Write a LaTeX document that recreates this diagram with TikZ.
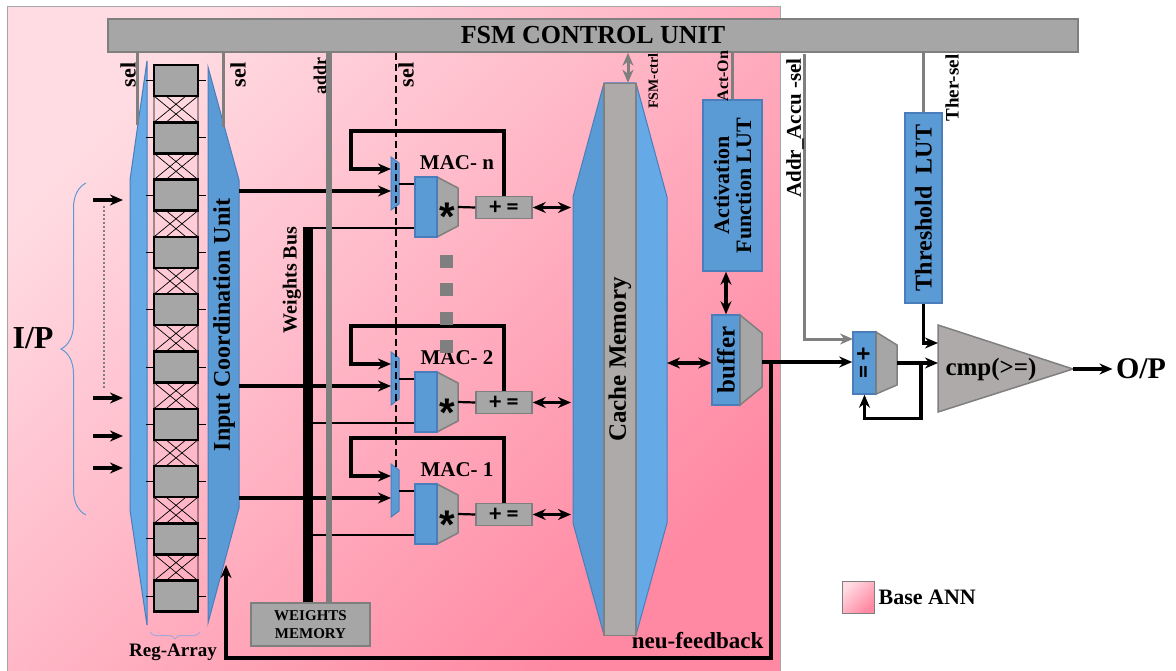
\documentclass[tikz,border=0pt]{standalone}
\usepackage{fontspec}
\setmainfont{Liberation Serif}
\newfontfamily\calib{Carlito}
\newfontfamily\arialf{Liberation Sans}
\usetikzlibrary{shapes,positioning,arrows.meta,calc,decorations.pathreplacing}
\definecolor{pinkL}{HTML}{FFDCE3}
\definecolor{pinkD}{HTML}{FF88A2}
\definecolor{unitblue}{HTML}{5B9BD5}
\definecolor{lightblue}{HTML}{65AAE6}
\definecolor{blueedge}{HTML}{4A7EBB}
\definecolor{boxgray}{HTML}{A6A6A6}
\definecolor{edgegray}{HTML}{7F7F7F}
\definecolor{memgray}{HTML}{AEAAAA}
\definecolor{bracelav}{HTML}{A9A7DA}
\newcommand{\tsize}[2]{\fontsize{#1}{#2}\selectfont\bfseries}

\begin{document}
\begin{tikzpicture}[x=1pt,y=-1pt,>={Stealth[length=13pt,width=11pt]}]
\tikzstyle{gbox}=[draw=edgegray, fill=boxgray, line width=1.5pt, inner sep=0pt];
\tikzstyle{bbox}=[draw=blueedge, fill=unitblue, line width=1.5pt, inner sep=0pt];
\tikzstyle{cell}=[draw, fill=boxgray, line width=2.5pt, minimum width=44pt, minimum height=31pt, inner sep=0pt];
\tikzstyle{vlabel}=[rotate=90, inner sep=0pt];
\tikzstyle{wire}=[line width=3.2pt];
\tikzstyle{twire}=[line width=2.2pt];
\tikzstyle{gwire}=[edgegray, line width=3pt];
\tikzstyle{trap}=[fill=boxgray, draw=edgegray, line width=1.5pt];
\useasboundingbox (0,0) rectangle (1176,671);

% base ANN region
\shade[top color=pinkL, bottom color=pinkD, shading angle=45] (7,7) rectangle (780,680);
\draw[gray!70, line width=1pt] (7,680) -- (7,7) -- (780,7) -- (780,680);

\node[gbox, minimum width=970pt, minimum height=33pt, font={\tsize{26}{26}}] (fsm) at (593,35.5) {FSM CONTROL UNIT};

% register array
\fill[lightblue, draw=blueedge, line width=1pt] (147,61) -- (130,180) -- (130,510) -- (147,625) -- cycle;
\foreach \i in {0,...,8} {
  \pgfmathsetmacro\yt{96+57.3*\i}
  \draw[line width=0.7pt] (154,\yt) rectangle (198,\yt+26.3)
    (154,\yt) -- (186,\yt+26.3) (166,\yt) -- (198,\yt+26.3)
    (198,\yt) -- (166,\yt+26.3) (186,\yt) -- (154,\yt+26.3);
}
\foreach \i in {0,...,9} {
  \node[cell] (cell\i) at (176,80.5+57.3*\i) {};
  \draw[line width=1pt] (cell\i.west) -- ++(-7,0) (cell\i.east) -- ++(7,0);
}

% input coordination unit
\fill[unitblue, draw=blueedge, line width=1pt] (208,67) -- (239,180) -- (239,508) -- (208,623) -- cycle;
\node[vlabel, font={\tsize{24}{24}}] (icu) at (224,325) {Input Coordination Unit};
\coordinate (icuR) at (239,325);
\coordinate (icuB) at (226,565);

% cache memory
\fill[unitblue] (620,83) -- (604,83) -- (573,197) -- (573,523) -- (604,635) -- (620,635) -- cycle;
\fill[lightblue] (620,83) -- (636,83) -- (667,197) -- (667,523) -- (636,635) -- (620,635) -- cycle;
\draw[blueedge, line width=1pt] (604,83) -- (573,197) -- (573,523) -- (604,635) -- (636,635) -- (667,523) -- (667,197) -- (636,83) -- cycle;
\node[vlabel, fill=memgray, draw=gray, line width=1.5pt, minimum width=552pt, minimum height=32pt, font={\tsize{25}{25}}] (cache) at (620,359.5) {Cache Memory};
\coordinate (cacheL) at (571,360);
\coordinate (cacheR) at (667,363);

% MAC units
\foreach \m/\b in {n/177,2/372,1/484} {
  \fill[unitblue, draw=blueedge, line width=1pt] (391,\b-20) -- (399,\b-14) -- (399,\b+27) -- (391,\b+33) -- cycle;
  \coordinate (muxA\m) at (391,\b-8);
  \coordinate (muxB\m) at (391,\b+14);
  \coordinate (muxO\m) at (399,\b+7);
  \fill[trap] (437,\b) -- (458,\b+11) -- (458,\b+49) -- (437,\b+60) -- cycle;
  \node[bbox, minimum width=22pt, minimum height=60pt] (mreg\m) at (426,\b+30) {};
  \coordinate (mulO\m) at (458,\b+30);
  \node[anchor=base, inner sep=0pt, font={\arialf\fontsize{40}{40}\selectfont\bfseries}] (mul\m) at (447,\b+54) {*};
  \node[gbox, minimum width=56pt, minimum height=22pt, font={\calib\fontsize{24}{24}\selectfont\bfseries}] (acc\m) at (504,\b+30.5) {+ =};
  \node[font={\tsize{21}{21}}] (mac\m) at (457,\b-14) {MAC- \m};
  \coordinate (wt\m) at (308,\b+51);
  \draw[twire] (muxO\m) -- (muxO\m -| mreg\m.west);
  \draw[twire] (mulO\m) -- (acc\m.west);
  \draw[twire] (wt\m) -- (wt\m -| mreg\m.west);
  \draw[wire,->] (icuR |- muxB\m) -- (muxB\m);
  \draw[wire,->] (acc\m.north) |- (351,\b-46) |- (muxA\m);
  \draw[wire,<->] (acc\m.east) -- (acc\m.east -| cacheL);
}
\foreach \d in {255,283,312,340} \fill[edgegray] (440,\d) rectangle ++(13,13);

% weights memory and buses
\node[gbox, align=center, minimum width=119pt, minimum height=43pt, font={\tsize{15}{18}}] (wmem) at (310.5,624.5) {WEIGHTS\\MEMORY};
\coordinate (busT) at (308,227);
\draw[line width=10pt] (busT) -- (busT |- wmem.north);
\coordinate (addrB) at ([xshift=18pt]wmem.north);
\draw[gwire, line width=6pt] (addrB) -- (addrB |- fsm.south);

% select lines
\coordinate (selA) at (137,125);
\coordinate (selB) at (223,127);
\coordinate (selC) at (396,467);
\draw[gwire] (selA) -- (selA |- fsm.south);
\draw[gwire] (selB) -- (selB |- fsm.south);
\draw[line width=2.2pt, dash pattern=on 7pt off 4pt] (selC) -- (selC |- fsm.south);
\node[vlabel, font={\tsize{22}{22}}] (selAtxt) at (128,75) {sel};
\node[vlabel, font={\tsize{22}{22}}] (selBtxt) at (238,75) {sel};
\node[vlabel, font={\tsize{18}{18}}] (addrtxt) at (320,76) {addr};
\node[vlabel, font={\tsize{22}{22}}] (selCtxt) at (406,75) {sel};
\node[vlabel, font={\tsize{20}{20}}] (bustxt) at (292,280) {Weights Bus};

% activation LUT and buffer
\node[bbox, vlabel, align=center, minimum width=171pt, minimum height=59pt, font={\tsize{22}{22}}] (aflut) at (732.5,185.5) {Activation\\Function LUT};
\draw[gwire] (aflut.east) -- (aflut.east |- fsm.south);
\node[vlabel, font={\tsize{16}{16}}] (acttxt) at (723,76) {Act-On};
\coordinate (ctrlB) at ([xshift=8pt]cache.east);
\draw[gwire,<->] (ctrlB) -- (ctrlB |- fsm.south);
\node[vlabel, font={\tsize{14}{14}}] (ctrltxt) at (653,81) {FSM-ctrl};
\node[bbox, vlabel, minimum width=90pt, minimum height=28pt, font={\tsize{25}{25}}] (buf) at (726,360) {buffer};
\fill[trap] (740,315) -- (762,333) -- (762,387) -- (740,405) -- cycle;
\coordinate (bufO) at (762,362);
\draw[wire,<->] (buf.east) -- (buf.east |- aflut.west);
\draw[wire,<->] (cacheR) -- (cacheR -| buf.north);

% accumulator
\node[bbox, vlabel, minimum width=62pt, minimum height=23pt, font={\calib\fontsize{26}{26}\selectfont\bfseries}] (accu) at (864.5,363) {= +};
\fill[trap] (876,332) -- (897,345) -- (897,385) -- (876,394) -- cycle;
\coordinate (accuO) at (897,363);
\coordinate (accuS) at (853,339);
\coordinate (accuSel) at (804,54);
\draw[gwire,->] (accuSel) |- (accuS);
\node[vlabel, font={\tsize{21}{21}}] (acctxt) at (795,128) {Addr\_Accu -sel};
\draw[wire,->] (bufO) -- (bufO -| accu.north);
\coordinate (fbk) at (771,362);
\draw[wire,->] (fbk) -- ++(0,296) -| (icuB);
\node[anchor=east, font={\tsize{23}{23}}] (fbtxt) at (767,641) {neu-feedback};

% threshold and comparator
\node[bbox, vlabel, minimum width=190pt, minimum height=37pt, font={\tsize{24}{24}}] (thlut) at (923.5,208) {Threshold\ \ LUT};
\draw[gwire] (thlut.east) -- (thlut.east |- fsm.south);
\node[vlabel, font={\tsize{19}{19}}] (thtxt) at (952,88) {Ther-sel};
\fill[memgray, draw=edgegray, line width=1.5pt] (938,325) -- (1073,369) -- (938,412) -- cycle;
\node[font={\tsize{25}{25}}] (cmp) at (991,369) {cmp(>=)};
\coordinate (cmpT) at (938,343);
\coordinate (cmpI) at (938,363);
\coordinate (cmpO) at (1073,369);
\draw[wire,->] (thlut.west) |- (cmpT);
\draw[wire,->] (accuO) -- (cmpI);
\draw[wire,->] ($(accuO)+(24,0)$) |- ($(accu.west)+(0,24)$) -- (accu.west);
\node[font={\tsize{30}{30}}] (op) at (1141,369) {O/P};
\draw[line width=4.5pt,->] (cmpO) -- (op.west);

% inputs
\node[font={\tsize{32}{32}}] (ip) at (33,338) {I/P};
\draw[unitblue, line width=1pt, decorate, decoration={brace, amplitude=25pt}] (86,515) -- (86,183);
\foreach \d [count=\k] in {200,398,436,468} {
  \coordinate (in\k) at (93,\d);
  \draw[wire,->] (in\k) -- ++(30,0);
}
\draw[edgegray, line width=2pt, dotted] ($(in1)+(11,6)$) -- ($(in2)+(11,-10)$);
\draw[bracelav, line width=1pt, decorate, decoration={brace, amplitude=7pt}] (200,632) -- (150,632);
\node[font={\tsize{19}{19}}] (regtxt) at (173,652) {Reg-Array};

% legend
\node[draw=edgegray, line width=1pt, top color=pinkL, bottom color=pinkD, shading angle=45, minimum size=32pt, inner sep=0pt] (leg) at (858,597) {};
\node[right=4pt of leg, inner sep=0pt, font={\tsize{22}{22}}] (legtxt) {Base ANN};
\end{tikzpicture}
\end{document}
